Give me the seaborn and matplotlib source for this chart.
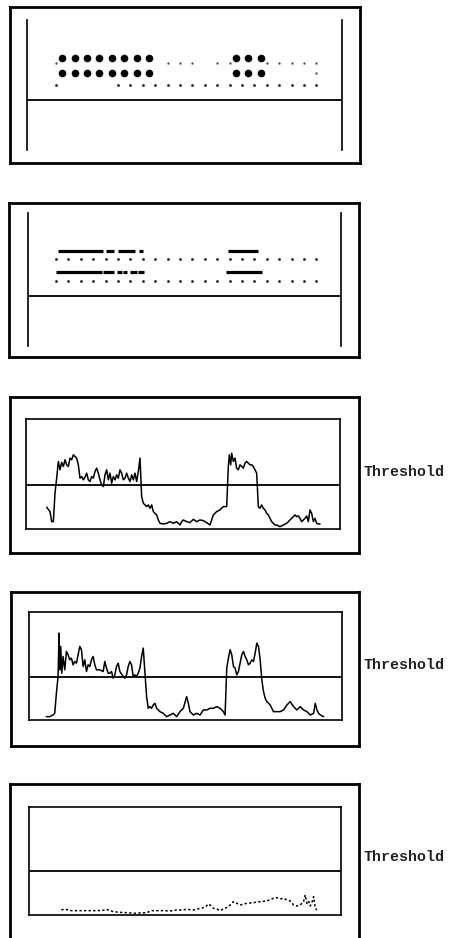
import numpy as np
import pandas as pd
import matplotlib
matplotlib.use("Agg")
import matplotlib.pyplot as plt
import seaborn as sns

sns.set_style("white")
plt.rcParams["font.family"] = ["Liberation Mono", "DejaVu Sans Mono"]

# ---------------- data ----------------
# Panel 1: detection grid (column index, track level)
p1_big_cols = [0.5, 1.5, 2.5, 3.5, 4.5, 5.5, 6.5, 7.5, 14.5, 15.5, 16.5]
p1_rowB_small = [0, 9, 10, 11, 13, 14, 17, 18, 19, 20, 21]
p1_rowD_small = [0, 5, 6, 7, 8, 9, 10, 11, 12, 13, 14, 15, 16, 17, 18, 19, 20, 21]
p1_rowC_small = [21]
p1_levels = {"A": 1.0, "B": 1.33, "C": 2.0, "D": 2.8, "base": 3.8}

# Panel 2: dash segments (start, end) in column units
p2_row1_start = [0.2, 4.0, 5.0, 6.7, 13.9]
p2_row1_end = [3.8, 4.7, 6.4, 7.0, 16.3]
p2_row2_start = [0.0, 3.8, 4.9, 5.4, 6.0, 6.6, 13.7]
p2_row2_end = [3.7, 4.7, 5.3, 5.7, 6.5, 7.1, 16.6]
p2_dot_cols = list(range(22))
p2_levels = {"dash1": 1.0, "dots1": 1.53, "dash2": 2.4, "dots2": 3.0, "base": 4.0}

# Panel 3 signal
p3_t = [14.0, 15.0, 15.5, 16.0, 16.5, 17.0, 17.5, 18.0, 18.5, 19.0, 19.5, 20.0, 20.5, 21.0, 21.5,
        22.0, 22.5, 23.0, 23.5, 24.0, 24.5, 25.0, 25.5, 26.0, 26.5, 27.0, 27.5, 28.0, 28.5, 29.0,
        29.5, 30.0, 30.5, 31.0, 31.5, 32.0, 32.5, 33.0, 33.5, 34.0, 34.5, 35.0, 35.5, 36.0, 36.5,
        37.0, 37.5, 38.0, 38.5, 39.0, 39.5, 40.0, 40.5, 41.0, 41.5, 42.0, 42.5, 43.0, 43.5, 44.0,
        44.5, 45.0, 45.5, 46.0, 46.5, 47.0, 47.5, 48.0, 49.0, 50.0, 51.0, 52.0, 53.0, 54.0, 54.5,
        55.0, 56.0, 57.0, 58.0, 59.0, 60.0, 61.0, 62.0, 63.0, 64.0, 65.0, 66.0, 67.0, 68.0, 68.5,
        68.8, 69.2, 69.5, 70.0, 70.5, 71.0, 71.5, 72.0, 72.5, 73.0, 73.5, 74.0, 74.5, 75.0, 75.5,
        76.0, 76.5, 77.0, 77.5, 78.0, 78.5, 79.0, 79.5, 80.0, 80.5, 81.0, 81.5, 82.0, 82.5, 83.0,
        84.0, 85.0, 86.0, 87.0, 88.0, 88.5, 89.0, 89.5, 90.0, 90.5, 91.0, 91.5, 92.0, 92.5, 93.0,
        93.5, 94.0, 94.5, 95.0, 95.5, 96.0]
p3_v = [65, 52, 22, 22, 107, 152, 202, 177, 199, 187, 207, 192, 187, 212, 207,
        222, 217, 212, 192, 152, 157, 147, 155, 167, 147, 142, 157, 152, 172, 182,
        167, 147, 132, 127, 162, 177, 147, 167, 137, 157, 147, 162, 152, 177, 167,
        147, 152, 167, 152, 142, 162, 147, 167, 142, 172, 212, 97, 77, 72, 67,
        72, 62, 72, 52, 47, 42, 27, 17, 15, 17, 22, 17, 22, 12, 22,
        27, 22, 19, 29, 22, 27, 25, 19, 12, 42, 52, 57, 67, 67, 187,
        222, 192, 227, 202, 212, 182, 177, 192, 187, 182, 197, 202, 197, 192, 192,
        187, 177, 167, 67, 62, 72, 62, 57, 47, 42, 32, 22, 17, 12, 12,
        7, 12, 17, 27, 37, 42, 37, 39, 32, 22, 27, 32, 39, 22, 57,
        47, 22, 32, 17, 15, 15]
p3_threshold = 132

# Panel 4 signal
p4_t = [14.0, 15.0, 16.0, 16.5, 17.0, 17.5, 17.8, 18.0, 18.3, 18.6, 19.0, 19.5, 20.0, 20.5, 21.0,
        21.5, 22.0, 22.5, 23.0, 23.5, 24.0, 24.5, 25.0, 25.5, 26.0, 26.5, 27.0, 27.5, 28.0, 28.5,
        29.0, 30.0, 31.0, 31.5, 32.0, 32.5, 33.0, 33.5, 34.0, 34.5, 35.0, 35.5, 36.0, 37.0, 37.5,
        38.0, 38.5, 39.0, 39.5, 40.0, 40.5, 41.0, 41.5, 42.0, 42.5, 43.0, 43.5, 44.0, 44.5, 45.0,
        45.5, 46.0, 46.5, 47.0, 48.0, 49.0, 50.0, 51.0, 52.0, 53.0, 54.0, 55.0, 56.0, 56.5, 57.0,
        58.0, 59.0, 60.0, 61.0, 62.0, 63.0, 64.0, 65.0, 66.0, 67.0, 67.5, 68.0, 68.5, 69.0, 69.5,
        70.0, 70.5, 71.0, 71.5, 72.0, 72.5, 73.0, 73.5, 74.0, 74.5, 75.0, 75.5, 76.0, 76.5, 77.0,
        77.5, 78.0, 78.5, 79.0, 79.5, 80.0, 81.0, 82.0, 83.0, 84.0, 85.0, 86.0, 87.0, 88.0, 89.0,
        90.0, 91.0, 92.0, 93.0, 94.0, 94.5, 95.0, 95.5, 96.0, 97.0]
p4_v = [10, 10, 15, 20, 80, 130, 260, 150, 220, 140, 190, 150, 205, 195, 180,
        185, 165, 175, 170, 195, 220, 210, 160, 180, 145, 165, 160, 180, 190, 165,
        150, 150, 145, 175, 155, 140, 140, 145, 125, 135, 160, 170, 145, 130, 125,
        135, 160, 175, 165, 130, 135, 130, 140, 155, 190, 215, 140, 70, 35, 40,
        35, 45, 50, 35, 25, 20, 10, 15, 20, 10, 25, 35, 70, 50, 25,
        15, 20, 15, 30, 30, 35, 35, 40, 35, 25, 15, 155, 185, 210, 195,
        160, 155, 135, 145, 170, 195, 205, 190, 180, 165, 170, 180, 175, 200, 230,
        220, 180, 120, 85, 65, 55, 45, 25, 25, 25, 30, 45, 55, 40, 30,
        40, 30, 25, 15, 20, 50, 30, 20, 15, 10]
p4_threshold = 130

# Panel 5 signal
p5_t = [18.5, 19.5, 20.5, 21.5, 23.0, 25.0, 27.0, 29.0, 31.0, 32.0, 33.0, 34.0, 36.0, 38.0, 40.0,
        42.0, 44.0, 45.5, 49.0, 51.0, 53.0, 54.5, 56.0, 58.0, 60.0, 61.5, 62.5, 63.0, 64.0, 65.0,
        66.0, 68.5, 70.0, 71.0, 72.0, 74.0, 76.0, 78.0, 80.0, 82.0, 83.0, 84.0, 85.0, 86.0, 87.0,
        88.0, 89.0, 90.0, 91.0, 91.5, 92.0, 92.5, 93.0, 93.5, 94.0, 94.5, 95.0]
p5_v = [15, 18, 15, 13, 13, 13, 13, 13, 14, 17, 13, 10, 8, 7, 5,
        6, 7, 13, 13, 12, 15, 15, 17, 15, 20, 23, 33, 30, 20, 18,
        13, 25, 40, 35, 30, 35, 37, 40, 42, 50, 52, 48, 50, 45, 42,
        30, 27, 30, 40, 60, 35, 42, 27, 37, 55, 20, 15]
p5_threshold = 133

label_text = "Threshold"

# ---------------- layout helpers ----------------
W, H = 450, 938
fig = plt.figure(figsize=(W / 100, H / 100), dpi=100)
fig.patch.set_facecolor("white")


def add_px(left, top, right, bottom):
    return fig.add_axes([left / W, 1 - bottom / H, (right - left) / W, (bottom - top) / H])


def outer_box(left, top, right, bottom):
    ax = add_px(left, top, right, bottom)
    ax.set_xticks([]); ax.set_yticks([])
    ax.set_facecolor("none")
    for s in ax.spines.values():
        s.set_linewidth(2.0); s.set_color("black")
    return ax


def clean(ax):
    ax.set_xticks([]); ax.set_yticks([])
    ax.set_xlabel(""); ax.set_ylabel("")
    ax.set_facecolor("none")


def col_to_lim(px_left, px_right):
    return (px_left - 56) / 12.4, (px_right - 56) / 12.4

# ---------------- panel 1 ----------------
outer_box(10, 7, 360, 163)
ax1 = add_px(27, 20, 342, 150)
lv = p1_levels
sns.scatterplot(x=p1_big_cols, y=[lv["A"]] * len(p1_big_cols), s=30, color="black",
                linewidth=0, ax=ax1, legend=False)
sns.scatterplot(x=p1_big_cols, y=[lv["C"]] * len(p1_big_cols), s=30, color="black",
                linewidth=0, ax=ax1, legend=False)
sns.scatterplot(x=p1_rowB_small, y=[lv["B"]] * len(p1_rowB_small), s=3, color="#555555",
                linewidth=0, ax=ax1, legend=False)
sns.scatterplot(x=p1_rowD_small, y=[lv["D"]] * len(p1_rowD_small), s=4, color="#222222",
                linewidth=0, ax=ax1, legend=False)
sns.scatterplot(x=p1_rowC_small, y=[lv["C"]] * len(p1_rowC_small), s=3, color="#555555",
                linewidth=0, ax=ax1, legend=False)
ax1.axhline(lv["base"], color="black", lw=1.3)
ax1.set_xlim(*col_to_lim(27, 342))
ax1.set_ylim((150 - 43) / 15, (20 - 43) / 15)
clean(ax1)
ax1.spines["top"].set_visible(False); ax1.spines["bottom"].set_visible(False)
for s in ("left", "right"):
    ax1.spines[s].set_linewidth(1.2); ax1.spines[s].set_color("black")

# ---------------- panel 2 ----------------
outer_box(9, 203, 359, 357)
ax2 = add_px(28, 213, 341, 346)
lv = p2_levels
ax2.hlines([lv["dash1"]] * len(p2_row1_start), p2_row1_start, p2_row1_end, color="black", lw=2.3)
ax2.hlines([lv["dash2"]] * len(p2_row2_start), p2_row2_start, p2_row2_end, color="black", lw=2.3)
sns.scatterplot(x=p2_dot_cols, y=[lv["dots1"]] * len(p2_dot_cols), s=4, color="#222222",
                linewidth=0, ax=ax2, legend=False)
sns.scatterplot(x=p2_dot_cols, y=[lv["dots2"]] * len(p2_dot_cols), s=4, color="#222222",
                linewidth=0, ax=ax2, legend=False)
ax2.axhline(lv["base"], color="black", lw=1.3)
ax2.set_xlim(*col_to_lim(28, 341))
ax2.set_ylim((346 - 236) / 15, (213 - 236) / 15)
clean(ax2)
ax2.spines["top"].set_visible(False); ax2.spines["bottom"].set_visible(False)
for s in ("left", "right"):
    ax2.spines[s].set_linewidth(1.2); ax2.spines[s].set_color("black")

# ---------------- signal panels ----------------


def signal_panel(outer, inner, t, v, thr, xlim, ylim_top, text_y, dashed=False):
    outer_box(*outer)
    ax = add_px(*inner)
    df = pd.DataFrame({"t": t, "v": v})
    if dashed:
        sns.lineplot(data=df, x="t", y="v", ax=ax, color="black", lw=1.1,
                     linestyle=(0, (1.5, 1.5)), estimator=None)
    else:
        sns.lineplot(data=df, x="t", y="v", ax=ax, color="black", lw=1.1, estimator=None)
    ax.axhline(thr, color="black", lw=1.3)
    ax.set_xlim(*xlim)
    ax.set_ylim(0, ylim_top)
    clean(ax)
    for s in ax.spines.values():
        s.set_linewidth(1.2); s.set_color("black")
    fig.text(364 / W, 1 - text_y / H, label_text, fontsize=10.8, fontweight="bold",
             va="center", ha="left", color="#222222")
    return ax


signal_panel((10, 397, 359, 553), (26, 419, 340, 529), p3_t, p3_v, p3_threshold,
             (7.8, 102.0), 329, 472)
signal_panel((11, 592, 359, 746), (29, 612, 342, 720), p4_t, p4_v, p4_threshold,
             (8.8, 102.5), 323, 665)
signal_panel((10, 784, 359, 952), (29, 807, 341, 915), p5_t, p5_v, p5_threshold,
             (8.8, 102.2), 323, 857, dashed=True)

fig.savefig("out.png", dpi=100, facecolor="white")
